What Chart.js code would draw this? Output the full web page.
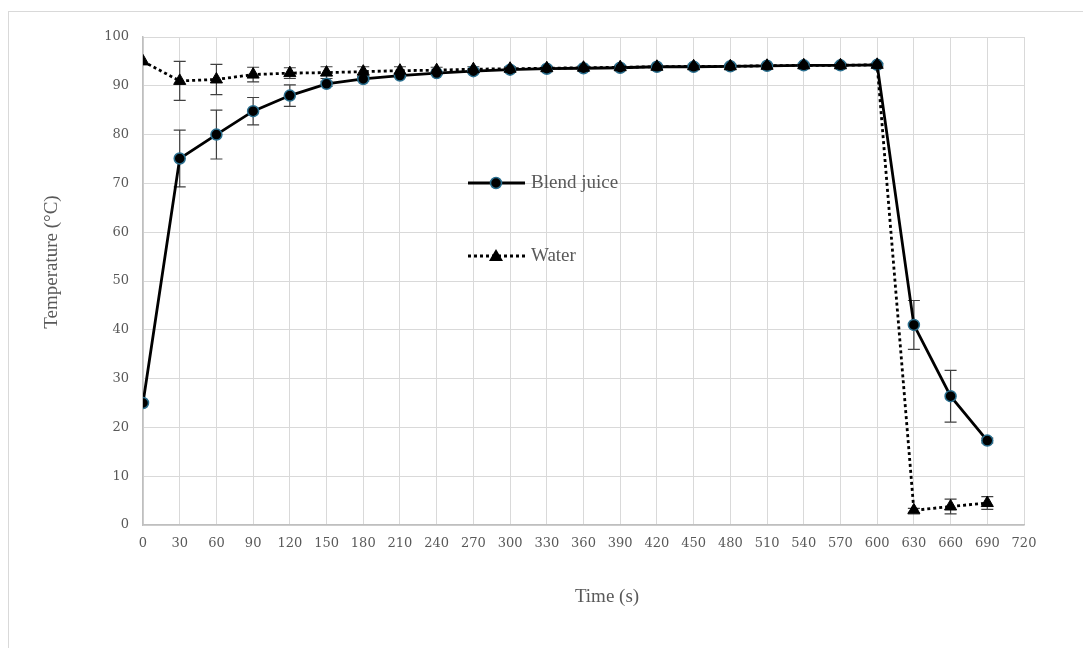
<!DOCTYPE html>
<html>
<head>
<meta charset="utf-8">
<script src="https://cdn.jsdelivr.net/npm/chart.js@4.4.1/dist/chart.umd.min.js"></script>
<style>
  html, body { margin: 0; padding: 0; background: #fff; }
  #wrap { position: relative; width: 1083px; height: 648px; }
  #frame { position: absolute; left: 8px; top: 11px; right: -2px; bottom: -2px; border: 1px solid #d9d9d9; }
  canvas { position: absolute; left: 0; top: 0; }
</style>
</head>
<body>
<div id="wrap">
  <div id="frame"></div>
  <canvas id="chart" width="1083" height="648"></canvas>
</div>
<script>
  // time points (s)
  const times = [0, 30, 60, 90, 120, 150, 180, 210, 240, 270, 300, 330, 360, 390, 420, 450, 480, 510, 540, 570, 600, 630, 660, 690];

  // temperatures (°C)
  const blendJuice = [25, 75.1, 80, 84.8, 88, 90.4, 91.4, 92.1, 92.6, 93, 93.3, 93.5, 93.6, 93.7, 93.9, 93.9, 94, 94.1, 94.2, 94.2, 94.3, 41, 26.4, 17.3];
  const water = [95, 91, 91.3, 92.3, 92.6, 92.7, 92.9, 93.1, 93.2, 93.4, 93.5, 93.6, 93.7, 93.8, 93.9, 94, 94, 94.1, 94.2, 94.2, 94.3, 3, 3.8, 4.5];

  // standard deviations (error bars)
  const blendErr = [0, 5.8, 5, 2.8, 2.2, 0.5, 0.4, 0.3, 0.3, 0.2, 0.2, 0.2, 0.2, 0.2, 0.2, 0.2, 0.2, 0.2, 0.2, 0.2, 0.2, 5, 5.3, 0.5];
  const waterErr = [0, 4, 3.1, 1.5, 1.1, 1.2, 1, 0.8, 0.6, 0.5, 0.4, 0.4, 0.4, 0.4, 0.4, 0.4, 0.4, 0.4, 0.4, 0.4, 0.3, 0.4, 1.5, 1.3];

  const xTicks = [0, 720, 30];   // min, max, step
  const yTicks = [0, 100, 10];
  const xTitle = 'Time (s)';
  const yTitle = 'Temperature (°C)';

  const toPoints = (arr) => arr.map((v, i) => ({ x: times[i], y: v }));

  const labelColor = '#595959';
  const serif = '"Liberation Serif", "Times New Roman", serif';
  const tickFont = '"DejaVu Serif", serif';

  // draw error bars through the scales
  const errorBars = {
    id: 'errorBars',
    beforeDatasetsDraw(chart) {
      const { ctx, scales: { x, y } } = chart;
      ctx.save();
      ctx.strokeStyle = '#404040';
      ctx.lineWidth = 1.2;
      [[water, waterErr], [blendJuice, blendErr]].forEach(([vals, errs]) => {
        vals.forEach((v, i) => {
          const e = errs[i];
          if (!e) return;
          const px = x.getPixelForValue(times[i]);
          const top = y.getPixelForValue(v + e);
          const bot = y.getPixelForValue(v - e);
          ctx.beginPath();
          ctx.moveTo(px, top); ctx.lineTo(px, bot);
          ctx.moveTo(px - 6, top); ctx.lineTo(px + 6, top);
          ctx.moveTo(px - 6, bot); ctx.lineTo(px + 6, bot);
          ctx.stroke();
        });
      });
      ctx.restore();
    }
  };

  // axis titles, placed where the original has them
  const axisTitles = {
    id: 'axisTitles',
    afterDraw(chart) {
      const { ctx } = chart;
      ctx.save();
      ctx.fillStyle = labelColor;
      ctx.font = '19px ' + serif;
      ctx.textAlign = 'center';
      ctx.textBaseline = 'middle';
      ctx.fillText(xTitle, 607, 597);
      ctx.translate(52, 262);
      ctx.rotate(-Math.PI / 2);
      ctx.fillText(yTitle, 0, 0);
      ctx.restore();
    }
  };

  // legend drawn inside the plot area, like the original
  const innerLegend = {
    id: 'innerLegend',
    afterDraw(chart) {
      const { ctx } = chart;
      const items = [
        { label: 'Blend juice', y: 183, dash: [], marker: 'circle' },
        { label: 'Water', y: 256, dash: [3, 3], marker: 'triangle' }
      ];
      ctx.save();
      items.forEach(it => {
        ctx.strokeStyle = '#000';
        ctx.lineWidth = 2.8;
        ctx.setLineDash(it.dash);
        ctx.beginPath();
        ctx.moveTo(468, it.y); ctx.lineTo(525, it.y);
        ctx.stroke();
        ctx.setLineDash([]);
        if (it.marker === 'circle') {
          ctx.beginPath();
          ctx.arc(496, it.y, 5.5, 0, Math.PI * 2);
          ctx.fillStyle = '#000';
          ctx.fill();
          ctx.strokeStyle = '#2a6f8f';
          ctx.lineWidth = 1.5;
          ctx.stroke();
        } else {
          ctx.beginPath();
          ctx.moveTo(496, it.y - 7);
          ctx.lineTo(503, it.y + 5);
          ctx.lineTo(489, it.y + 5);
          ctx.closePath();
          ctx.fillStyle = '#000';
          ctx.fill();
        }
        ctx.fillStyle = labelColor;
        ctx.font = '19px ' + serif;
        ctx.textBaseline = 'middle';
        ctx.fillText(it.label, 531, it.y);
      });
      ctx.restore();
    }
  };

  const ctx = document.getElementById('chart').getContext('2d');
  new Chart(ctx, {
    type: 'line',
    data: {
      datasets: [
        {
          label: 'Blend juice',
          data: toPoints(blendJuice),
          borderColor: '#000',
          borderWidth: 2.8,
          pointStyle: 'circle',
          pointRadius: 5.5,
          pointBackgroundColor: '#000',
          pointBorderColor: '#2a6f8f',
          pointBorderWidth: 1.5,
          tension: 0,
          order: 2
        },
        {
          label: 'Water',
          data: toPoints(water),
          borderColor: '#000',
          borderWidth: 2.8,
          borderDash: [3, 3],
          pointStyle: 'triangle',
          pointRadius: 7,
          pointBackgroundColor: '#000',
          pointBorderColor: '#000',
          pointBorderWidth: 1,
          tension: 0,
          order: 1
        }
      ]
    },
    options: {
      responsive: false,
      animation: false,
      layout: { padding: { top: 37, right: 59, bottom: 33, left: 0 } },
      plugins: {
        legend: { display: false },
        tooltip: { enabled: false }
      },
      scales: {
        x: {
          type: 'linear',
          min: xTicks[0],
          max: xTicks[1],
          afterFit(scale) { scale.height = 90; },
          ticks: {
            stepSize: xTicks[2],
            color: labelColor,
            padding: 11,
            maxRotation: 0,
            autoSkip: false,
            font: { family: tickFont, size: 13 }
          },
          grid: { color: '#d9d9d9', lineWidth: 1, drawTicks: false },
          border: { color: '#bfbfbf', width: 1.5 }
        },
        y: {
          min: yTicks[0],
          max: yTicks[1],
          afterFit(scale) { scale.width = 143; },
          ticks: {
            stepSize: yTicks[2],
            color: labelColor,
            padding: 14,
            font: { family: tickFont, size: 13 }
          },
          grid: { color: '#d9d9d9', lineWidth: 1, drawTicks: false },
          border: { color: '#bfbfbf', width: 1.5 }
        }
      }
    },
    plugins: [errorBars, axisTitles, innerLegend]
  });
</script>
</body>
</html>
